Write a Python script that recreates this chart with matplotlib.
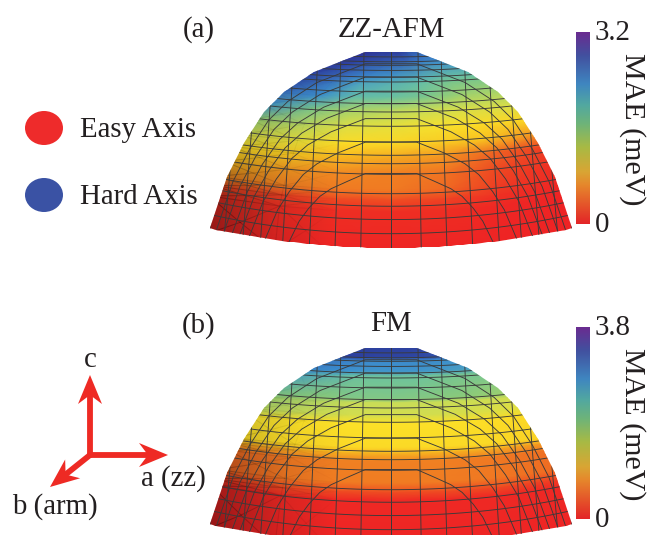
import numpy as np
import matplotlib
matplotlib.use("Agg")
import matplotlib.pyplot as plt
from matplotlib.colors import LinearSegmentedColormap
from matplotlib.patches import Ellipse, Polygon

plt.rcParams["font.family"] = ["Liberation Serif", "DejaVu Serif"]

# ================= DATA =================
# azimuth columns, left to right across the dome (-1 = left rim, 1 = right rim)
AZIMUTH = [-1.0, -0.6, -0.3, 0.0, 0.3, 0.6, 1.0]

# height of each row, 0 = top of the dome, 1 = bottom
ROWS_AFM = [0.0, 0.05, 0.128, 0.162, 0.23, 0.298, 0.383, 0.468, 0.536, 0.62, 0.706, 0.757, 0.816, 1.05]
MAE_AFM = [
    [3.04, 3.00, 2.98, 2.98, 2.98, 2.85, 2.70],
    [3.00, 2.92, 2.84, 2.80, 2.72, 2.45, 2.30],
    [2.94, 2.72, 2.38, 2.26, 2.16, 2.05, 2.00],
    [2.88, 2.56, 2.18, 2.10, 2.02, 1.90, 1.85],
    [2.69, 2.30, 2.05, 2.00, 1.90, 1.70, 1.65],
    [2.30, 1.90, 1.68, 1.60, 1.52, 1.45, 1.45],
    [1.76, 1.60, 1.41, 1.34, 1.26, 1.18, 1.12],
    [1.47, 1.34, 1.18, 1.15, 1.06, 0.96, 0.70],
    [1.22, 1.06, 0.93, 0.86, 0.77, 0.51, 0.19],
    [0.96, 0.77, 0.70, 0.64, 0.58, 0.32, 0.10],
    [0.70, 0.64, 0.61, 0.61, 0.51, 0.22, 0.06],
    [0.32, 0.26, 0.32, 0.35, 0.26, 0.13, 0.03],
    [0.13, 0.10, 0.10, 0.10, 0.10, 0.06, 0.03],
    [0.03, 0.03, 0.03, 0.03, 0.03, 0.03, 0.03],
]

ROWS_FM = [0.0, 0.05, 0.065, 0.12, 0.145, 0.26, 0.28, 0.345, 0.385, 0.51, 0.54, 0.58, 0.69, 0.74, 0.78, 1.05]
MAE_FM = [
    [3.50, 3.50, 3.50, 3.50, 3.50, 3.50, 3.50],
    [3.50, 3.50, 3.46, 3.46, 3.46, 3.42, 3.35],
    [3.04, 2.89, 2.81, 2.81, 2.81, 2.81, 2.74],
    [2.85, 2.74, 2.70, 2.70, 2.70, 2.66, 2.60],
    [2.60, 2.47, 2.36, 2.36, 2.36, 2.30, 2.28],
    [2.24, 2.13, 2.20, 2.20, 2.17, 2.13, 2.02],
    [2.05, 1.94, 1.82, 1.82, 1.82, 1.80, 1.77],
    [1.90, 1.80, 1.75, 1.75, 1.75, 1.70, 1.60],
    [1.52, 1.44, 1.44, 1.44, 1.44, 1.42, 1.38],
    [1.40, 1.37, 1.37, 1.37, 1.37, 1.37, 1.30],
    [0.95, 1.00, 1.06, 1.06, 1.06, 1.00, 0.90],
    [0.60, 0.72, 0.76, 0.76, 0.76, 0.72, 0.65],
    [0.55, 0.70, 0.74, 0.74, 0.74, 0.70, 0.60],
    [0.20, 0.35, 0.38, 0.38, 0.38, 0.35, 0.25],
    [0.06, 0.08, 0.08, 0.08, 0.08, 0.08, 0.08],
    [0.04, 0.04, 0.04, 0.04, 0.04, 0.04, 0.04],
]

# dark side of the dome, fraction of black per azimuth column at the base
SHADE_BASE = [0.42, 0.12, 0.0, 0.0, 0.0, 0.0, 0.0]

VMAX_AFM = 3.2
VMAX_FM = 3.8

# dome rim: drop below the top (px) and half width there (px)
RIM_DROP = [0, 20, 40, 60, 91.3, 125.3, 176.3]
RIM_HALF = [25.7, 77, 107, 127, 147, 164, 181]
DOME_HEIGHT = 196.0

GRID_ROWS = [0.025, 0.05, 0.068, 0.094, 0.128, 0.153, 0.204, 0.264, 0.306, 0.379, 0.459,
             0.527, 0.57, 0.624, 0.723, 0.787, 0.855, 0.927]
GRID_COLS = [0, 27, 50, 73, 97, 117, 133, 150, 163, 173]
GRID_RINGS = [0.38, 0.54, 0.66, 0.737, 0.80, 0.872, 0.94]
# =========================================

W, H = 649, 535
TEXT = "#231f20"
LINE = "#3a3a3a"
FS = 20.8

cmap_dome = LinearSegmentedColormap.from_list("dome", [
    (0.0, "#ee2024"), (0.12, "#ee5522"), (0.2, "#f08022"), (0.3, "#f8c020"),
    (0.38, "#fce128"), (0.48, "#c8dc58"), (0.56, "#8ccb78"), (0.63, "#68c0a4"),
    (0.72, "#3c90d0"), (0.85, "#3868b8"), (0.93, "#2c3c9c"), (1.0, "#3a2090"),
])
cmap_bar = LinearSegmentedColormap.from_list("bar", [
    (0.0, "#e32528"), (0.2, "#e6862c"), (0.27, "#d9a534"), (0.4, "#a8ba44"),
    (0.52, "#6fb478"), (0.62, "#52a8a0"), (0.73, "#3f86c0"), (0.88, "#42509f"),
    (1.0, "#6a2c90"),
])
cmap_shade = LinearSegmentedColormap.from_list("shade", [(0, 0, 0, 0), (0, 0, 0, 1)])


def rim_half(drop):
    return np.interp(drop, RIM_DROP, RIM_HALF)


def sphere_xy(u, t, cx, top):
    # near-horizontal rows sag up towards the rim
    drop = t * DOME_HEIGHT - 19.7 * t * np.asarray(u) ** 2
    return cx + np.asarray(u) * rim_half(drop), top + drop


def draw_dome(ax, rows, values, vmax, cx, top):
    base_u = np.linspace(-1, 1, 61)
    bx, by = sphere_xy(base_u, 1.0, cx, top)
    rim_x = cx - rim_half(np.array(RIM_DROP))
    rim_y = top + np.array(RIM_DROP)
    outline = list(zip(rim_x[::-1], rim_y[::-1])) + list(zip(2 * cx - rim_x, rim_y))
    outline += list(zip(bx[::-1][1:-1], by[::-1][1:-1]))
    dome = Polygon(outline, closed=True, fc="none", ec="none", transform=ax.transData)
    ax.add_patch(dome)

    uu, tt = np.meshgrid(AZIMUTH, rows)
    xx = cx + uu * 1.07 * rim_half(tt * DOME_HEIGHT - 19.7 * tt * uu ** 2)
    yy = top + tt * DOME_HEIGHT - 19.7 * tt * uu ** 2
    mesh = ax.pcolormesh(xx, yy, np.array(values), cmap=cmap_dome, vmin=0, vmax=vmax,
                         shading="gouraud", zorder=1)
    mesh.set_clip_path(dome)

    shade = np.outer(np.clip(np.array(rows) / 0.9, 0, 1) ** 1.5, SHADE_BASE)
    dark = ax.pcolormesh(xx, yy, shade, cmap=cmap_shade, vmin=0, vmax=1,
                         shading="gouraud", zorder=2)
    dark.set_clip_path(dome)

    lines = []
    u = np.linspace(-1.05, 1.05, 43)
    for t in GRID_ROWS:
        lines.append(ax.plot(*sphere_xy(u, t, cx, top))[0])

    drop = np.linspace(0, DOME_HEIGHT + 5, 60)
    for a in GRID_COLS:
        grow = a * (1 + 0.12 * drop / DOME_HEIGHT)
        for sign in (-1, 1):
            lines.append(ax.plot(cx + sign * grow, top + drop)[0])

    rim_drop = np.array(RIM_DROP)
    for f in GRID_RINGS:
        # same facets as the rim, shrunk towards the bottom centre
        half = f ** 0.6 * np.array(RIM_HALF)
        half[0] = RIM_HALF[0]
        ring_drop = DOME_HEIGHT - f * (DOME_HEIGHT - rim_drop)
        half = np.r_[half, half[-1] * 1.08]
        ring_drop = np.r_[ring_drop, DOME_HEIGHT + 10]
        lines.append(ax.plot(np.r_[(cx - half)[::-1], cx + half],
                             top + np.r_[ring_drop[::-1], ring_drop])[0])

    for ln in lines:
        ln.set(color=LINE, lw=0.65, zorder=3, clip_path=dome)


def draw_colorbar(ax, vmax, y_top, y_bot, top_label):
    grad = np.linspace(1, 0, 256).reshape(-1, 1) * vmax
    ax.imshow(grad, cmap=cmap_bar, vmin=0, vmax=vmax, extent=(576, 589.5, y_bot, y_top),
              aspect="auto", zorder=2)
    ax.text(595, y_top + 1, top_label, fontsize=FS, color=TEXT, ha="left", va="center")
    ax.text(595, y_bot + 1, "0", fontsize=FS, color=TEXT, ha="left", va="center")
    ax.text(632, (y_top + y_bot) / 2 + 1, "MAE (meV)", fontsize=21.6, color=TEXT,
            rotation=-90, ha="center", va="center")


def draw_arrow(ax, start, tip, color="#ee2a24"):
    start, tip = np.array(start, float), np.array(tip, float)
    d = (tip - start) / np.linalg.norm(tip - start)
    n = np.array([-d[1], d[0]])
    ax.plot(*zip(start, tip - d * 14), color=color, lw=4.2, solid_capstyle="round", zorder=4)
    head = [tip, tip - d * 29 + n * 12, tip - d * 20, tip - d * 29 - n * 12]
    ax.add_patch(Polygon(head, closed=True, fc=color, ec="none", zorder=5))


def main():
    fig = plt.figure(figsize=(W / 100, H / 100), dpi=100)
    ax = fig.add_axes([0, 0, 1, 1])

    draw_dome(ax, ROWS_AFM, MAE_AFM, VMAX_AFM, 391, 52)
    draw_dome(ax, ROWS_FM, MAE_FM, VMAX_FM, 391, 348)
    draw_colorbar(ax, VMAX_AFM, 32, 224, "3.2")
    draw_colorbar(ax, VMAX_FM, 327, 519, "3.8")

    ax.text(199, 30, "(a)", fontsize=FS, color=TEXT, ha="center", va="center")
    ax.text(199, 326, "(b)", fontsize=FS, color=TEXT, ha="center", va="center")
    ax.text(391, 30, "ZZ-AFM", fontsize=FS, color=TEXT, ha="center", va="center")
    ax.text(391, 324, "FM", fontsize=FS, color=TEXT, ha="center", va="center")

    ax.add_patch(Ellipse((44, 128), 38, 34, fc="#ee2b2b", ec="none"))
    ax.add_patch(Ellipse((44, 195), 38, 34, fc="#3a52a4", ec="none"))
    ax.text(80, 130, "Easy Axis", fontsize=FS, color=TEXT, ha="left", va="center")
    ax.text(80, 197, "Hard Axis", fontsize=FS, color=TEXT, ha="left", va="center")

    origin = (90, 455)
    draw_arrow(ax, origin, (90, 375))
    draw_arrow(ax, origin, (168, 455))
    draw_arrow(ax, origin, (50, 487))
    ax.text(90, 360, "c", fontsize=FS, color=TEXT, ha="center", va="center")
    ax.text(141, 479, "a (zz)", fontsize=FS, color=TEXT, ha="left", va="center")
    ax.text(12, 507, "b (arm)", fontsize=FS, color=TEXT, ha="left", va="center")

    ax.set_xlim(0, W)
    ax.set_ylim(H, 0)
    ax.axis("off")
    fig.savefig("out.png", dpi=100, facecolor="white")
    plt.close(fig)


if __name__ == "__main__":
    main()
